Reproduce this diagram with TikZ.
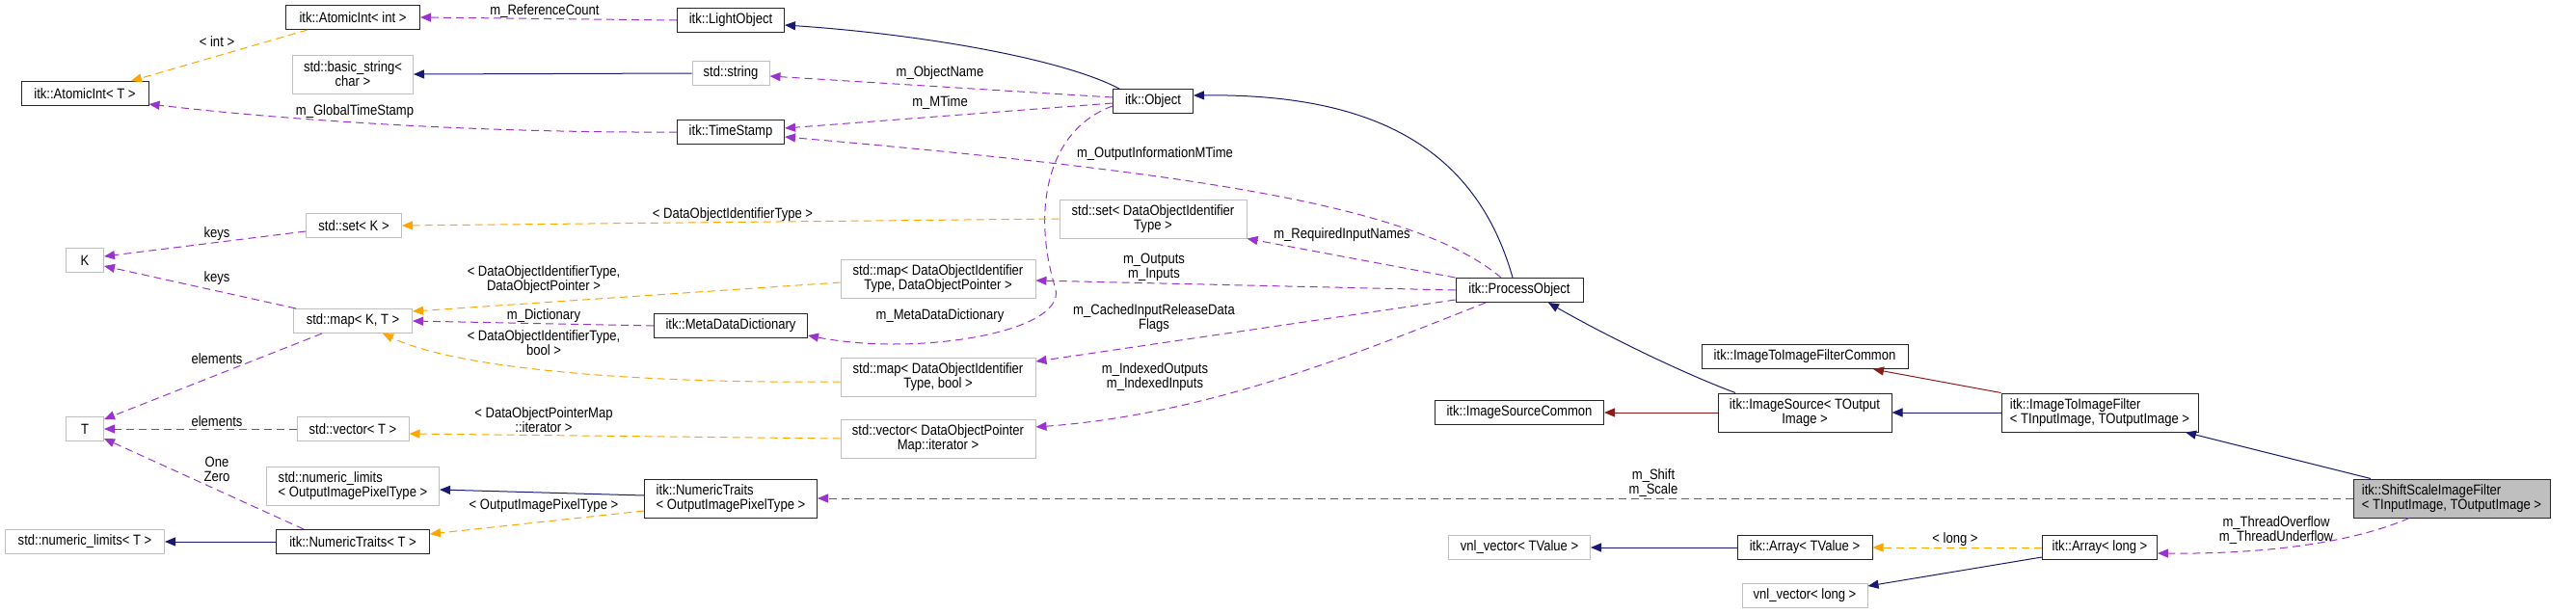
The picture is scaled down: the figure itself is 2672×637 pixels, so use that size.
\documentclass[tikz,border=0pt]{standalone}
\usepackage{fontspec}
\setmainfont{Liberation Sans}[FakeStretch=0.87]
\usepackage{xcolor}
\usetikzlibrary{arrows.meta}
\definecolor{memcol}{HTML}{9A32CD}
\definecolor{tplcol}{HTML}{FFA500}
\definecolor{pubcol}{HTML}{191970}
\definecolor{privcol}{HTML}{8B1A1A}
\definecolor{extgray}{HTML}{BFBFBF}

\begin{document}
\begin{tikzpicture}[
  x=1pt, y=-1pt,
  every node/.style={font=\fontsize{15}{15}\selectfont},
  cls/.style={draw=black!85, line width=1pt, fill=white, inner xsep=3pt, inner ysep=2pt, minimum height=25pt},
  ext/.style={cls, draw=extgray},
  focus/.style={cls, fill=extgray},
  tall/.style={minimum height=40pt},
  lbl/.style={align=center, inner sep=0pt},
  pub/.style={draw=pubcol, line width=1pt, -{Triangle[length=11pt, width=9pt]}},
  priv/.style={pub, draw=privcol},
  member/.style={draw=memcol, line width=1pt, dash pattern=on 8pt off 5pt, -{Triangle[length=11pt, width=9pt]}},
  templ/.style={member, draw=tplcol}
]
\useasboundingbox (0,0) rectangle (2672,637);

\node[cls, minimum width=139pt] (aiInt) at (366,18) {itk::AtomicInt< int >};
\node[cls, minimum width=132pt] (aiT) at (88,97) {itk::AtomicInt< T >};
\node[cls, minimum width=111pt] (lightObj) at (758,21) {itk::LightObject};
\node[ext, tall, minimum width=125pt, align=center] (basicStr) at (366,77) {std::basic\_string<\\char >};
\node[ext, minimum width=80pt] (stdStr) at (758,76) {std::string};
\node[cls, minimum width=111pt] (timeStamp) at (758,137) {itk::TimeStamp};
\node[cls, minimum width=83pt] (object) at (1196,105) {itk::Object};
\node[ext, minimum width=99pt] (setK) at (367,234) {std::set< K >};
\node[ext, minimum width=39pt] (kNode) at (88,270) {K};
\node[ext, minimum width=123pt] (mapKT) at (366,333) {std::map< K, T >};
\node[ext, minimum width=39pt] (tNode) at (88,445) {T};
\node[ext, minimum width=116pt] (vecT) at (366,445) {std::vector< T >};
\node[ext, tall, minimum width=179pt, align=left] (nlOIPT) at (366,504) {std::numeric\_limits\\< OutputImagePixelType >};
\node[ext, minimum width=165pt] (nlT) at (88,562) {std::numeric\_limits< T >};
\node[cls, minimum width=159pt] (ntT) at (366,562) {itk::NumericTraits< T >};
\node[cls, minimum width=159pt] (mdd) at (758,338) {itk::MetaDataDictionary};
\node[ext, tall, minimum width=194pt, align=center] (setDOIT) at (1196,227) {std::set< DataObjectIdentifier\\Type >};
\node[ext, tall, minimum width=202pt, align=center] (mapDOP) at (973,289) {std::map< DataObjectIdentifier\\Type, DataObjectPointer >};
\node[ext, tall, minimum width=202pt, align=center] (mapBool) at (973,391) {std::map< DataObjectIdentifier\\Type, bool >};
\node[ext, tall, minimum width=202pt, align=center] (vecIter) at (973,455) {std::vector< DataObjectPointer\\Map::iterator >};
\node[cls, tall, minimum width=179pt, align=left] (ntOIPT) at (758,517) {itk::NumericTraits\\< OutputImagePixelType >};
\node[cls, minimum width=132pt] (procObj) at (1576,301) {itk::ProcessObject};
\node[cls, minimum width=214pt] (itifCommon) at (1872,370) {itk::ImageToImageFilterCommon};
\node[cls, minimum width=175pt] (isCommon) at (1576,428) {itk::ImageSourceCommon};
\node[cls, tall, minimum width=180pt, align=center] (imgSrc) at (1872,428) {itk::ImageSource< TOutput\\Image >};
\node[ext, minimum width=147pt] (vnlTValue) at (1576,568) {vnl\_vector< TValue >};
\node[cls, minimum width=140pt] (arrTValue) at (1872,568) {itk::Array< TValue >};
\node[ext, minimum width=130pt] (vnlLong) at (1872,618) {vnl\_vector< long >};
\node[cls, tall, minimum width=204pt, align=left] (itif) at (2178,428) {itk::ImageToImageFilter\\< TInputImage, TOutputImage >};
\node[focus, tall, minimum width=204pt, align=left] (shiftScale) at (2543,517) {itk::ShiftScaleImageFilter\\< TInputImage, TOutputImage >};
\node[cls, minimum width=119pt] (arrLong) at (2178,568) {itk::Array< long >};

\draw[templ] ([xshift=-47pt]aiInt.south) -- ([xshift=48pt]aiT.north);
\draw[member] (lightObj.west) -- (aiInt.east);
\draw[pub] (stdStr.west) -- (basicStr.east);
\draw[pub] ([xshift=-35pt]object.north) .. controls (1100,60) and (950,35) .. ([yshift=-5pt]lightObj.east);
\draw[member] ([yshift=4pt]object.west) -- ([yshift=-3pt]stdStr.east);
\draw[member] ([yshift=-2pt]object.west) -- ([yshift=4pt]timeStamp.east);
\draw[member] (timeStamp.west) .. controls (500,138) and (300,125) .. ([yshift=-11pt]aiT.east);
\draw[member] ([xshift=-19pt]procObj.north) .. controls (1470,215) and (1250,180) .. ([yshift=-5pt]timeStamp.east);
\draw[pub] ([xshift=-7pt]procObj.north) .. controls (1530,150) and (1420,97) .. ([yshift=6pt]object.east);
\draw[member] ([yshift=-5pt]object.west) .. controls (1085,135) and (1070,220) .. (1095,300)
  .. controls (1105,345) and (950,370) .. ([yshift=-10pt]mdd.east);
\draw[member] (mdd.west) -- (mapKT.east);
\draw[member] ([yshift=-6pt]setK.west) -- ([yshift=4pt]kNode.east);
\draw[member] ([xshift=3pt]mapKT.north west) -- ([yshift=-6pt]kNode.east);
\draw[member] ([xshift=-32pt]mapKT.south) -- ([yshift=10pt]tNode.east);
\draw[member] (vecT.west) -- (tNode.east);
\draw[member] ([xshift=-51pt]ntT.north) -- ([yshift=-10pt]tNode.east);
\draw[pub] (ntT.west) -- (nlT.east);
\draw[pub] ([yshift=3pt]ntOIPT.west) -- ([yshift=-4pt]nlOIPT.east);
\draw[templ] ([yshift=-13pt]ntOIPT.west) -- ([yshift=8pt]ntT.east);
\draw[templ] (setDOIT.west) -- (setK.east);
\draw[templ] ([yshift=-4pt]mapDOP.west) -- ([yshift=10pt]mapKT.east);
\draw[templ] ([yshift=-5pt]mapBool.west) .. controls (680,398) and (480,385) .. ([xshift=31pt]mapKT.south);
\draw[templ] (vecIter.west) -- ([yshift=-5pt]vecT.east);
\draw[member] (procObj.north west) -- (setDOIT.south east);
\draw[member] (procObj.west) -- ([yshift=-2pt]mapDOP.east);
\draw[member] ([yshift=-10pt]procObj.west) -- ([yshift=16pt]mapBool.east);
\draw[member] ([xshift=-35pt]procObj.south) .. controls (1400,370) and (1250,430) .. ([yshift=12pt]vecIter.east);
\draw[pub] ([xshift=-72pt]imgSrc.north) .. controls (1740,385) and (1660,345) .. ([xshift=30pt]procObj.south);
\draw[priv] (imgSrc.west) -- (isCommon.east);
\draw[pub] (itif.west) -- (imgSrc.east);
\draw[priv] (itif.north west) -- ([xshift=71pt]itifCommon.south);
\draw[pub] ([xshift=-84pt]shiftScale.north) -- ([xshift=89pt]itif.south);
\draw[member] (shiftScale.west) -- (ntOIPT.east);
\draw[member] ([xshift=-44pt]shiftScale.south) .. controls (2440,563) and (2350,575) .. ([yshift=-6pt]arrLong.east);
\draw[templ] (arrLong.west) -- (arrTValue.east);
\draw[pub] ([yshift=-10pt]arrLong.west) -- ([yshift=-3pt]vnlLong.north east);
\draw[pub] (arrTValue.west) -- (vnlTValue.east);

\node[lbl] (lInt) at (225,43) {< int >};
\node[lbl] (lRefCount) at (565,12) {m\_ReferenceCount};
\node[lbl] (lGlobal) at (368,116) {m\_GlobalTimeStamp};
\node[lbl] (lKeysA) at (225,243) {keys};
\node[lbl] (lKeysB) at (225,289) {keys};
\node[lbl] (lDOP) at (564,290) {< DataObjectIdentifierType,\\DataObjectPointer >};
\node[lbl] (lElemA) at (225,372) {elements};
\node[lbl] (lElemB) at (225,437) {elements};
\node[lbl] (lOneZero) at (225,487) {One\\Zero};
\node[lbl] (lDict) at (564,328) {m\_Dictionary};
\node[lbl] (lBool) at (564,356) {< DataObjectIdentifierType,\\bool >};
\node[lbl] (lIter) at (564,436) {< DataObjectPointerMap\\::iterator >};
\node[lbl] (lOIPT) at (564,525) {< OutputImagePixelType >};
\node[lbl] (lName) at (975,76) {m\_ObjectName};
\node[lbl] (lMTime) at (975,107) {m\_MTime};
\node[lbl] (lOutInfo) at (1198,160) {m\_OutputInformationMTime};
\node[lbl] (lDOIT) at (760,223) {< DataObjectIdentifierType >};
\node[lbl] (lOutputs) at (1197,277) {m\_Outputs\\m\_Inputs};
\node[lbl] (lReq) at (1392,244) {m\_RequiredInputNames};
\node[lbl] (lMDD) at (975,328) {m\_MetaDataDictionary};
\node[lbl] (lCached) at (1197,330) {m\_CachedInputReleaseData\\Flags};
\node[lbl] (lIndexed) at (1198,391) {m\_IndexedOutputs\\m\_IndexedInputs};
\node[lbl] (lShift) at (1715,501) {m\_Shift\\m\_Scale};
\node[lbl] (lLong) at (2028,560) {< long >};
\node[lbl] (lThread) at (2361,550) {m\_ThreadOverflow\\m\_ThreadUnderflow};
\end{tikzpicture}
\end{document}
